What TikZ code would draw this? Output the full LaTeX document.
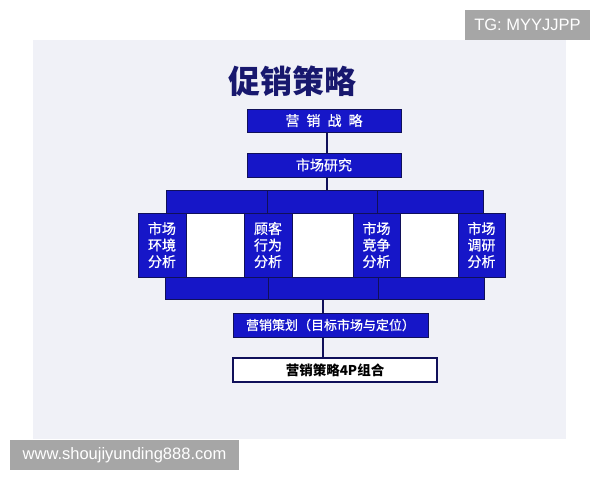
\documentclass[tikz,border=0pt]{standalone}
\usepackage{fontspec}
\setmainfont{Liberation Sans}
\newfontfamily\cjk{Noto Sans CJK SC}
\newfontfamily\cjkm[FakeBold=0.7]{Noto Sans CJK SC}
\definecolor{boxblue}{RGB}{22,22,200}
\definecolor{navy}{RGB}{16,16,90}
\definecolor{titlenavy}{RGB}{24,24,110}
\definecolor{slidebg}{RGB}{240,241,247}
\definecolor{wmgray}{RGB}{166,166,166}
\tikzset{
  bluebox/.style={draw=navy, line width=0.9pt, fill=boxblue, inner sep=0pt, outer sep=0pt},
  boxtext/.style={text=white, font=\cjkm\fontsize{14}{16.5}\selectfont, align=center},
  conn/.style={draw=navy, line width=1.6pt},
  wmbox/.style={fill=wmgray, text=white, inner sep=0pt, font=\fontsize{16.5}{18}\selectfont},
}
\begin{document}
\begin{tikzpicture}[x=1pt,y=-1pt]
\useasboundingbox (0,0) rectangle (600,480);
\fill[white] (0,0) rectangle (600,480);
% slide
\fill[slidebg] (33,40) rectangle (566,439);
% title
\node[text=titlenavy, font=\cjk\bfseries\fontsize{32}{34}\selectfont] (title) at (292,81) {促销策略};
% connectors (behind boxes)
\coordinate (c1a) at (327,132);
\coordinate (c1b) at (327,190);
\draw[conn] (c1a) -- (c1b);
\coordinate (c2a) at (323,288);
\coordinate (c2b) at (323,358);
\draw[conn] (c2a) -- (c2b);
% top boxes
\node[bluebox, minimum width=154pt, minimum height=23pt, boxtext] (b1) at (324,120.5) {营\hspace{7pt}销\hspace{7pt}战\hspace{7pt}略};
\node[bluebox, minimum width=154pt, minimum height=24pt, boxtext] (b2) at (324,165) {市场研究};
% top bar segments
\draw[bluebox] (166,190) rectangle (267,213);
\draw[bluebox] (267,190) rectangle (377,213);
\draw[bluebox] (377,190) rectangle (483,213);
% bottom bar segments
\draw[bluebox] (165,277) rectangle (268,299);
\draw[bluebox] (268,277) rectangle (378,299);
\draw[bluebox] (378,277) rectangle (484,299);
% white gaps
\fill[white] (187,213.5) rectangle (243.5,276.5);
\fill[white] (292.5,213.5) rectangle (352.5,276.5);
\fill[white] (400.5,213.5) rectangle (457.5,276.5);
% columns
\node[bluebox, minimum width=48pt, minimum height=64pt, boxtext] (k1) at (162,245) {市场\\环境\\分析};
\node[bluebox, minimum width=48pt, minimum height=64pt, boxtext] (k2) at (268,245) {顾客\\行为\\分析};
\node[bluebox, minimum width=47pt, minimum height=64pt, boxtext] (k3) at (376.5,245) {市场\\竞争\\分析};
\node[bluebox, minimum width=47pt, minimum height=64pt, boxtext] (k4) at (481.5,245) {市场\\调研\\分析};
% lower boxes
\node[bluebox, minimum width=195pt, minimum height=24pt, boxtext, font=\cjkm\fontsize{13}{15}\selectfont] (b5) at (330.5,325) {营销策划（目标市场与定位）};
\node[draw=navy, line width=1.4pt, fill=white, minimum width=204pt, minimum height=24pt, inner sep=0pt, text=black, font=\cjk\bfseries\fontsize{13.5}{15}\selectfont] (b6) at (335,370) {营销策略4P组合};
% watermarks
\node[wmbox, minimum width=125pt, minimum height=30pt] (wm1) at (527.5,24.5) {TG: MYYJJPP};
\node[wmbox, minimum width=229pt, minimum height=30pt] (wm2) at (124.5,455) {www.shoujiyunding888.com};
\end{tikzpicture}
\end{document}
